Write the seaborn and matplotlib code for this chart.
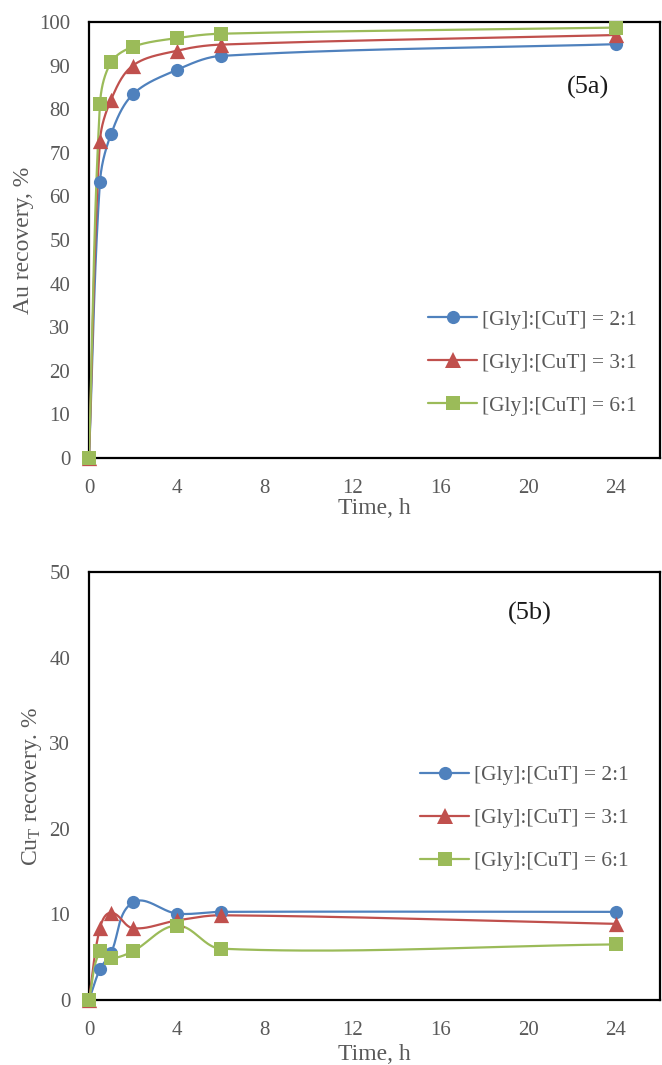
import numpy as np
import pandas as pd
import matplotlib
matplotlib.use("Agg")
import matplotlib.pyplot as plt
from matplotlib.lines import Line2D
import seaborn as sns

# Leaching time points, h
time_h = [0, 0.5, 1, 2, 4, 6, 24]

# Series labels
ratios = ["[Gly]:[CuT] = 2:1", "[Gly]:[CuT] = 3:1", "[Gly]:[CuT] = 6:1"]

# Au recovery, %
au_2to1 = [0, 63.3, 74.2, 83.4, 89.0, 92.2, 94.9]
au_3to1 = [0, 72.7, 82.1, 90.0, 93.4, 94.8, 97.0]
au_6to1 = [0, 81.1, 90.7, 94.3, 96.3, 97.3, 98.7]

# Cu_T recovery, %
cu_2to1 = [0, 3.6, 5.5, 11.4, 10.1, 10.3, 10.3]
cu_3to1 = [0, 8.4, 10.2, 8.4, 9.3, 9.9, 8.9]
cu_6to1 = [0, 5.7, 4.9, 5.7, 8.7, 6.0, 6.5]

# Axis ticks
x_ticks = [0, 4, 8, 12, 16, 20, 24]
au_ticks = [0, 10, 20, 30, 40, 50, 60, 70, 80, 90, 100]
cu_ticks = [0, 10, 20, 30, 40, 50]

colors = ["#4F81BD", "#C0504D", "#9BBB59"]
markers = ["o", "^", "s"]
msizes = [9.5, 11.0, 9.5]

sns.set_theme(style="white")
plt.rcParams["font.family"] = ["Liberation Serif", "DejaVu Serif"]
plt.rcParams["mathtext.fontset"] = "custom"
plt.rcParams["mathtext.rm"] = "Liberation Serif"
plt.rcParams["mathtext.it"] = "Liberation Serif:italic"

GREY = "#595959"
FS_TICK = 15
FS_LABEL = 17
FS_LEG = 15.4
FS_TAG = 19


def smooth_curve(ax, x, y, n=40):
    """Smoothed line through every point, built in display space so the
    curve keeps its shape regardless of the axis scales."""
    p = ax.transData.transform(np.column_stack([x, y]).astype(float))
    m = len(p)
    tang = []
    for i in range(m):
        a = p[max(i - 1, 0)]
        b = p[min(i + 1, m - 1)]
        d = b - a
        tang.append(d / np.hypot(*d))
    pieces = []
    for i in range(m - 1):
        p1, p2 = p[i], p[i + 1]
        L = np.hypot(*(p2 - p1)) / 3.0
        c1 = p1 + tang[i] * L
        c2 = p2 - tang[i + 1] * L
        t = np.linspace(0, 1, n)[:, None]
        seg = ((1 - t) ** 3) * p1 + 3 * ((1 - t) ** 2) * t * c1 \
            + 3 * (1 - t) * t ** 2 * c2 + t ** 3 * p2
        pieces.append(seg if i == 0 else seg[1:])
    curve = ax.transData.inverted().transform(np.vstack(pieces))
    return curve[:, 0], curve[:, 1]


def draw_panel(ax, series, ymax, yticks, ylabel, tag, tag_xy, legend_anchor,
               xlabelpad):
    ax.set_xlim(0, 26)
    ax.set_ylim(0, ymax)
    for label, vals, c, mk, ms in zip(ratios, series, colors, markers, msizes):
        sx, sy = smooth_curve(ax, time_h, vals)
        curve = pd.DataFrame({"t": sx, "v": sy})
        sns.lineplot(data=curve, x="t", y="v", ax=ax, color=c, lw=1.6,
                     sort=False, estimator=None, zorder=3)
        pts = pd.DataFrame({"t": time_h, "v": vals})
        sns.scatterplot(data=pts, x="t", y="v", ax=ax, color=c, marker=mk,
                        s=ms ** 2, edgecolor=c, linewidth=0, zorder=4,
                        clip_on=False)
    ax.set_xlim(0, 26)
    ax.set_ylim(0, ymax)
    ax.set_xticks(x_ticks)
    ax.set_yticks(yticks)
    ax.tick_params(axis="both", direction="in", length=5, width=1.5,
                   labelsize=FS_TICK, labelcolor=GREY, color="black", pad=13.5)
    ax.tick_params(axis="x", pad=15)
    for sp in ax.spines.values():
        sp.set_color("black")
        sp.set_linewidth(1.6)
    ax.set_xlabel("Time, h", fontsize=FS_LABEL, color=GREY, labelpad=xlabelpad)
    ax.set_ylabel(ylabel, fontsize=FS_LABEL, color=GREY, labelpad=4)
    ax.text(tag_xy[0], tag_xy[1], tag, transform=ax.transAxes, fontsize=FS_TAG,
            color="#1a1a1a", ha="center", va="center")
    handles = [Line2D([], [], color=c, lw=1.6, marker=mk, markersize=ms,
                      markeredgewidth=0)
               for c, mk, ms in zip(colors, markers, msizes)]
    ax.legend(handles, ratios, loc="center left", bbox_to_anchor=legend_anchor,
              frameon=False, fontsize=FS_LEG, labelcolor=GREY,
              handlelength=2.3, handletextpad=0.23, labelspacing=1.08,
              numpoints=1, borderaxespad=0, borderpad=0)


fig = plt.figure(figsize=(6.62, 10.65), dpi=100)
ax1 = fig.add_axes([0.1344, 0.5700, 0.8625, 0.4094])
ax2 = fig.add_axes([0.1344, 0.0610, 0.8625, 0.4019])

draw_panel(ax1, [au_2to1, au_3to1, au_6to1], 100, au_ticks,
           "Au recovery, %", "(5a)", (0.874, 0.849), (0.594, 0.218), 0)
draw_panel(ax2, [cu_2to1, cu_3to1, cu_6to1], 50, cu_ticks,
           r"Cu$_\mathregular{T}$ recovery. %", "(5b)", (0.772, 0.904),
           (0.580, 0.425), 3)

fig.savefig("out.png", dpi=100)
